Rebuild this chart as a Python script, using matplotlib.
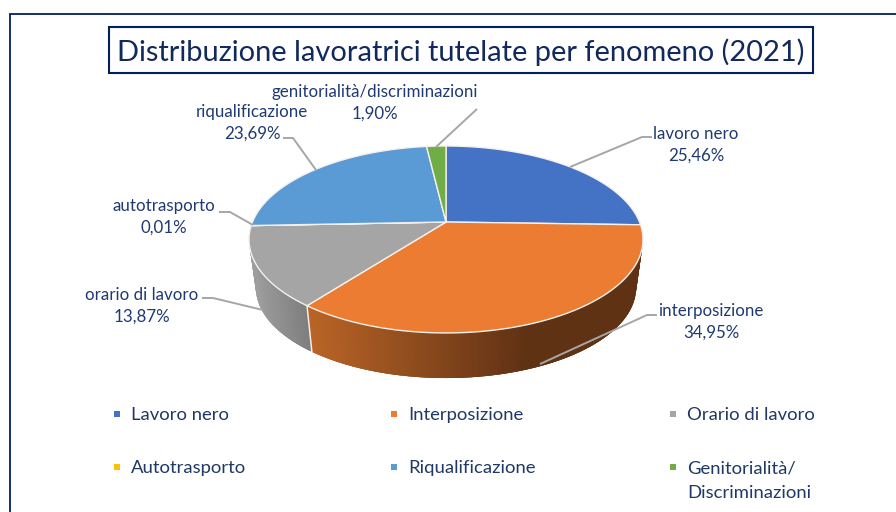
import matplotlib
matplotlib.use("Agg")
import matplotlib.pyplot as plt
import numpy as np

plt.rcParams["font.family"] = ["Lato", "DejaVu Sans"]

title = "Distribuzione lavoratrici tutelate per fenomeno (2021)"
categories = ["lavoro nero", "interposizione", "orario di lavoro",
              "autotrasporto", "riqualificazione", "genitorialità/discriminazioni"]
legend_labels = ["Lavoro nero", "Interposizione", "Orario di lavoro",
                 "Autotrasporto", "Riqualificazione", "Genitorialità/\nDiscriminazioni"]
values = [25.46, 34.95, 13.87, 0.01, 23.69, 1.90]
colors = ["#4472C4", "#EB7C31", "#A5A5A5", "#FFC000", "#5B9BD5", "#70AD47"]

NAVY = "#002060"
TEXT = "#1F3A73"
LEADER = "#A6A6A6"

# pie geometry in image pixels (tilted disc seen in perspective)
CX, CY = 446, 222
R, A, K = 193.5, 90.2, 0.187


def project(theta, scale=1.0, cy=CY):
    """Map a clockwise angle from 12 o'clock onto the tilted disc."""
    u, v = np.sin(theta), np.cos(theta)
    w = 1 + K * v
    return CX + scale * R * u / w, cy - scale * A * v / w


def mix(c0, c1, t):
    return tuple((a + (b - a) * t) / 255 for a, b in zip(c0, c1))


fig = plt.figure(figsize=(8.96, 5.12), dpi=100)
ax = fig.add_axes([0, 0, 1, 1])
ax.set_xlim(0, 896)
ax.set_ylim(512, 0)
ax.axis("off")

# frame around the slide, cut by the picture on the right and at the bottom
ax.plot([10, 10, 896], [512, 14, 14], color=NAVY, lw=1.3, solid_joinstyle="miter")

ax.text(460.5, 52, title, color="#12295F", fontsize=20.9, ha="center", va="center")
ax.add_patch(plt.Rectangle((108.5, 27), 704, 46, fc="none", ec=NAVY, lw=1.5))

edges = 2 * np.pi * np.concatenate([[0], np.cumsum(values)]) / np.sum(values)

# side wall: overlapping strips so the shading runs across the rim without seams
SIDE_SCALE, SIDE_CY = 0.965, 271
for i, (start, end) in [(1, (edges[1], edges[2])), (2, (edges[2], edges[3]))]:
    th = np.linspace(start, end, 120)
    x0, y0 = project(th)
    x1, y1 = project(th, SIDE_SCALE, SIDE_CY)
    for j in range(len(th) - 1):
        k = min(j + 3, len(th) - 1)
        xm = (x0[j] + x0[j + 1]) / 2
        if i == 1:
            c = mix((186, 100, 38), (96, 50, 20), np.clip((xm - 310) / 215, 0, 1))
        else:
            c = mix((158, 158, 158), (124, 124, 124), np.clip((xm - 252) / 58, 0, 1))
        ax.fill([x0[j], x0[k], x1[k], x1[j]],
                [y0[j], y0[k], y1[k], y1[j]],
                color=c, lw=0, zorder=2)

# seam between the orange and grey walls
bx0, by0 = project(edges[2])
bx1, by1 = project(edges[2], SIDE_SCALE, SIDE_CY)
ax.plot([bx0, bx1], [by0, by1], color="#F2EDE8", lw=1.1, zorder=3)

# top face
for start, end, color in zip(edges[:-1], edges[1:], colors):
    th = np.linspace(start, end, max(int((end - start) * 80), 3))
    x, y = project(th)
    ax.fill(np.r_[CX, x], np.r_[CY, y], fc=color, ec="#F4F0EC", lw=1.0,
            joinstyle="round", zorder=4)

# leader lines
leaders = [
    ([570, 642, 652], [167, 137, 137]),
    ([540, 647, 657], [364, 315, 315]),
    ([263, 213, 202], [310, 298, 298]),
    ([253, 230, 219], [225, 212, 212]),
    ([316, 293, 283], [170, 138, 138]),
    ([436, 477], [147, 109]),
]
for lx, ly in leaders:
    ax.plot(lx, ly, color=LEADER, lw=1.4, zorder=5, solid_capstyle="butt")

# data labels, two lines each
label_x = [696, 711, 142, 164, 252, 375]
label_y = [134, 311, 295, 206, 112, 92]
for name, val, lx, ly in zip(categories, values, label_x, label_y):
    pct = f"{val:.2f}%".replace(".", ",")
    ax.text(lx, ly, name, color=TEXT, fontsize=12.2, ha="center", va="center", zorder=6)
    ax.text(lx, ly + 22, pct, color=TEXT, fontsize=12.2, ha="center", va="center", zorder=6)

# legend, laid out by hand in three columns
leg_x = [117, 394, 673, 117, 394, 673]
leg_y = [414, 414, 414, 467, 467, 467]
for label, color, lx, ly in zip(legend_labels, colors, leg_x, leg_y):
    ax.scatter([lx], [ly], marker="s", s=22, color=color, lw=0, zorder=6)
    first, *rest = label.split("\n")
    ax.text(lx + 14, ly + 1, first, color="#1F3864", fontsize=13.3, ha="left", va="center")
    if rest:
        ax.text(lx + 14, ly + 26, rest[0], color="#1F3864", fontsize=13.3, ha="left", va="center")

fig.savefig("out.png", dpi=100, facecolor="white")
